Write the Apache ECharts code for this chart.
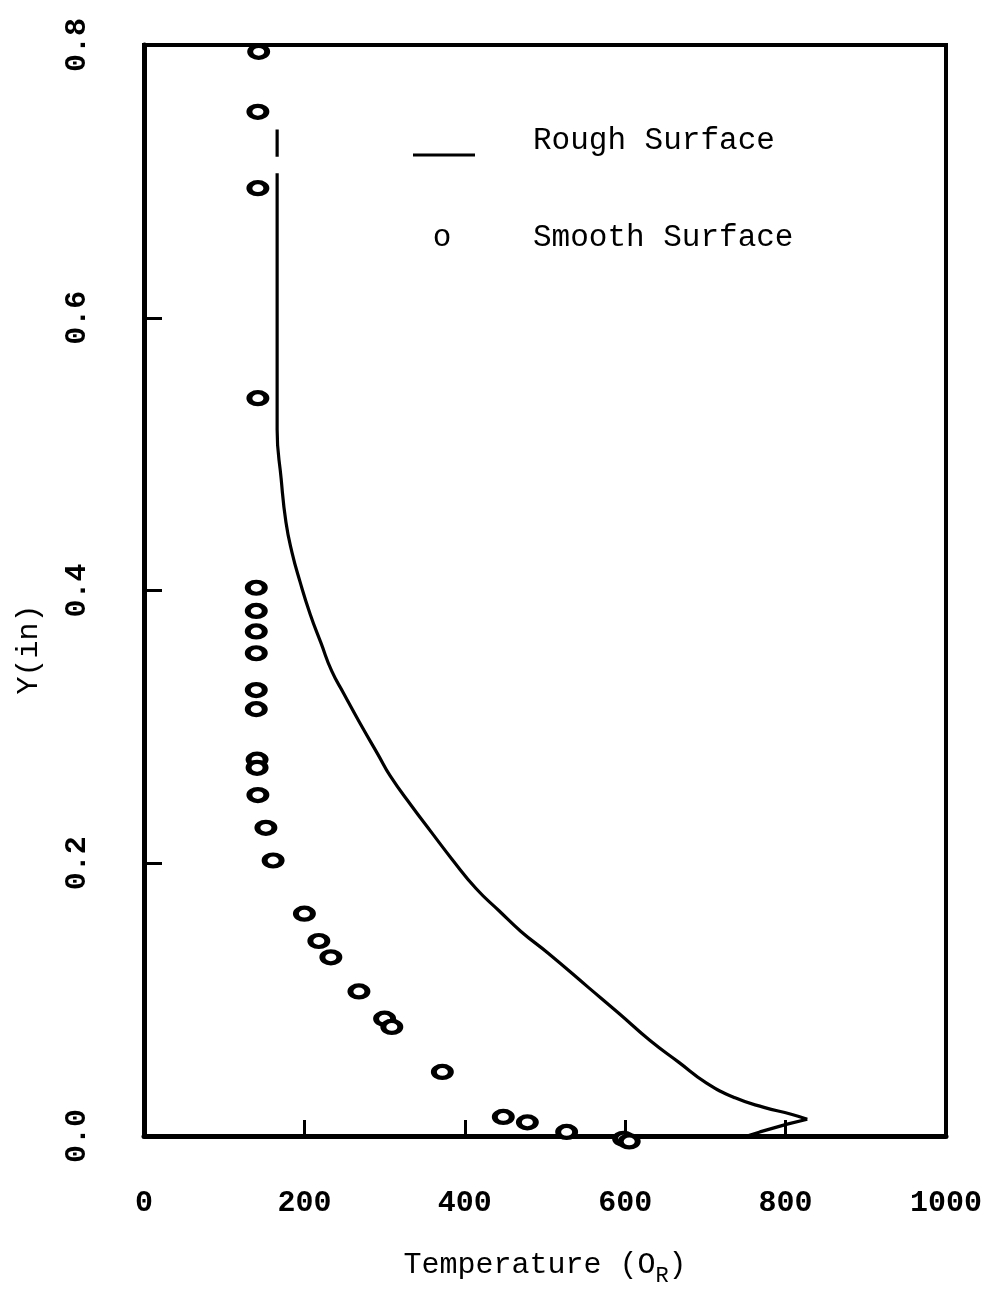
<!DOCTYPE html>
<html><head><meta charset="utf-8">
<script src="https://cdn.jsdelivr.net/npm/echarts@6/dist/echarts.min.js"></script>
<style>html,body{margin:0;padding:0;background:#fff}#c{width:994px;height:1292px}</style>
</head><body><div id="c"></div>
<script>
// Tick values
const xTickValues = [0, 200, 400, 600, 800, 1000];
const yTickValues = [0.0, 0.2, 0.4, 0.6, 0.8];

// Rough surface curve (Temperature, Y): short upper piece, main curve down to the peak, then the return tail
const roughUpper = [[166, 0.738], [166, 0.718]];
const roughMain = [
  [166, 0.706], [166, 0.615], [166, 0.560], [166, 0.518], [171, 0.482],
  [177, 0.450], [184.5, 0.428], [194.5, 0.4065], [207, 0.383], [221, 0.361],
  [234, 0.341], [249, 0.3245], [269, 0.303], [292, 0.2795], [307, 0.264],
  [333, 0.2425], [358, 0.223], [384, 0.203], [414, 0.1815], [443, 0.165],
  [470, 0.150], [504, 0.134], [554, 0.109], [592, 0.090], [631, 0.070],
  [667, 0.054], [701, 0.039], [737, 0.028], [773, 0.021], [807, 0.016],
  [827, 0.0123]
];
const roughTail = [[827, 0.0123], [802, 0.0087], [768, 0.003], [752, 0.0]];

// Smooth surface points (Temperature, Y)
const smoothPoints = [
  [143, 0.795], [142, 0.751], [142, 0.695], [142, 0.541], [140, 0.402],
  [140, 0.385], [140, 0.370], [140, 0.354], [140, 0.327], [140, 0.313],
  [141, 0.276], [141, 0.270], [142, 0.250], [152, 0.226], [161, 0.202],
  [200, 0.163], [218, 0.143], [233, 0.131], [268, 0.106], [300, 0.086],
  [309, 0.080], [372, 0.047], [448, 0.014], [478, 0.010], [527, 0.003],
  [598, -0.002], [605, -0.004]
];

const MONO = '"Liberation Mono", "DejaVu Sans Mono", monospace';
const lineStyle = {color: '#000', width: 3.2};

const chart = echarts.init(document.getElementById('c'), null, {renderer: 'canvas'});
chart.setOption({
  backgroundColor: '#fff',
  animation: false,
  grid: {
    left: 144, right: 48, top: 45, bottom: 145,
    show: true, borderColor: '#000', borderWidth: 4, backgroundColor: 'transparent'
  },
  xAxis: {
    type: 'value', min: xTickValues[0], max: xTickValues[xTickValues.length - 1], interval: 200,
    splitLine: {show: false},
    axisLine: {show: true, lineStyle: {color: '#000', width: 5}},
    axisTick: {show: true, inside: true, length: 16, lineStyle: {color: '#000', width: 3},
      customValues: xTickValues.slice(1, -1)},
    axisLabel: {
      color: '#000', fontFamily: MONO, fontWeight: 'bold', fontSize: 30, margin: 52,
      customValues: xTickValues,
      formatter: v => String(v)
    },
    name: '{a|Temperature (O}{s|R}{a|)}',
    nameLocation: 'middle', nameGap: 112,
    nameTextStyle: {
      rich: {
        a: {fontFamily: MONO, fontSize: 30, color: '#000', lineHeight: 34},
        s: {fontFamily: MONO, fontSize: 22, color: '#000', lineHeight: 34, padding: [22, 0, 0, 0]}
      }
    }
  },
  yAxis: {
    type: 'value', min: yTickValues[0], max: yTickValues[yTickValues.length - 1], interval: 0.2,
    splitLine: {show: false},
    axisLine: {show: true, lineStyle: {color: '#000', width: 5}},
    axisTick: {show: true, inside: true, length: 18, lineStyle: {color: '#000', width: 3},
      customValues: yTickValues.slice(1, -1)},
    axisLabel: {
      color: '#000', fontFamily: MONO, fontWeight: 'bold', fontSize: 30, margin: 52, rotate: 90,
      customValues: yTickValues,
      formatter: v => Number(v).toFixed(1)
    },
    name: 'Y(in)', nameLocation: 'middle', nameGap: 100, nameRotate: 90,
    nameTextStyle: {fontFamily: MONO, fontSize: 30, color: '#000', padding: [0, 118, 0, 0]}
  },
  series: [
    {
      name: 'Rough Surface', type: 'line', data: roughUpper, showSymbol: false, symbol: 'none',
      lineStyle: lineStyle, z: 3
    },
    {
      name: 'Rough Surface', type: 'line', data: roughMain, showSymbol: false, symbol: 'none',
      smooth: 0.5, lineStyle: lineStyle, z: 3
    },
    {
      name: 'Rough Surface', type: 'line', data: roughTail, showSymbol: false, symbol: 'none',
      lineStyle: lineStyle, z: 3
    },
    {
      name: 'Smooth Surface', type: 'scatter', data: smoothPoints, clip: false,
      symbol: 'circle', symbolSize: [17, 12],
      itemStyle: {color: '#fff', borderColor: '#000', borderWidth: 5, opacity: 1}, z: 4
    }
  ],
  graphic: [
    {type: 'line', shape: {x1: 413, y1: 155, x2: 475, y2: 155}, style: {stroke: '#000', lineWidth: 3}},
    {type: 'text', x: 533, y: 141, style: {text: 'Rough Surface', font: '31px ' + MONO, fill: '#000', verticalAlign: 'middle'}},
    {type: 'text', x: 442, y: 238, style: {text: 'o', font: '31px ' + MONO, fill: '#000', align: 'center', verticalAlign: 'middle'}},
    {type: 'text', x: 533, y: 238, style: {text: 'Smooth Surface', font: '31px ' + MONO, fill: '#000', verticalAlign: 'middle'}}
  ]
});
</script>
</body></html>
